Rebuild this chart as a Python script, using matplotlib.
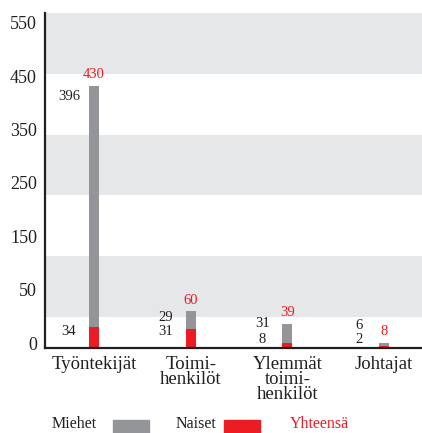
import matplotlib
matplotlib.use("Agg")
import matplotlib.pyplot as plt
from matplotlib.patches import Rectangle

# ---- data ----
categories = ["Työntekijät", "Toimi-\nhenkilöt", "Ylemmät\ntoimi-\nhenkilöt", "Johtajat"]
miehet = [396, 29, 31, 6]
naiset = [34, 31, 8, 2]
yhteensa = [430, 60, 39, 8]
ytick_labels = ["0", "50", "150", "250", "350", "450", "550"]
legend_labels = ["Miehet", "Naiset", "Yhteensä"]

# label placement (annotation layout, value units)
miehet_label_y = [412, 49, 39, 36]
naiset_label_y = [27, 27, 14, 13]
ytick_pos = [7.7 + 87.6 * i for i in range(7)]

GREY = "#939598"
RED = "#ED1C24"
BAND = "#E6E7E8"
TXT = "#231F20"
FONT = "Liberation Serif"

plt.rcParams["font.family"] = [FONT, "DejaVu Serif"]

fig = plt.figure(figsize=(4.22, 4.33), dpi=100)
ax = fig.add_axes([45.3 / 422, 85.3 / 433, 1 - 45.3 / 422, 335 / 433])

for lo, hi in [(50, 150), (250, 350), (450, 550)]:
    ax.axhspan(lo, hi, color=BAND, lw=0, zorder=0)

x = list(range(len(categories)))
w = 0.103
ax.bar(x, naiset, width=w, color=RED, zorder=2)
ax.bar(x, miehet, width=w, bottom=naiset, color=GREY, zorder=2)

for i in x:
    ax.text(i - 0.26, miehet_label_y[i], str(miehet[i]), ha="center", va="center",
            fontsize=10.5, color=TXT)
    ax.text(i - 0.26, naiset_label_y[i], str(naiset[i]), ha="center", va="center",
            fontsize=10.5, color=TXT)
    ax.annotate(str(yhteensa[i]), (i, yhteensa[i]), xytext=(0, 8),
                textcoords="offset points", ha="center", va="center",
                fontsize=10.5, color=RED)

ax.set_xlim(-0.504, 3.393)
ax.set_ylim(0, 550)
ax.set_yticks(ytick_pos)
ax.set_yticklabels(ytick_labels, fontsize=13, color=TXT)
ax.set_xticks(x)
ax.set_xticklabels(categories, fontsize=13.5, color=TXT, linespacing=0.85, va="top")
ax.tick_params(axis="both", length=0)
ax.tick_params(axis="y", pad=6)
ax.tick_params(axis="x", pad=6)

for s in ["top", "right"]:
    ax.spines[s].set_visible(False)
for s in ["left", "bottom"]:
    ax.spines[s].set_color(TXT)
    ax.spines[s].set_linewidth(1.6)
    ax.spines[s].set_zorder(3)

# legend
H = 433.0
W = 422.0
fig.text(52 / W, (H - 428) / H, legend_labels[0], fontsize=11.5, color=TXT, va="baseline")
fig.patches.append(Rectangle((113 / W, 0), 36 / W, 13 / H, transform=fig.transFigure,
                             color=GREY, figure=fig))
fig.text(176 / W, (H - 428) / H, legend_labels[1], fontsize=11.5, color=TXT, va="baseline")
fig.patches.append(Rectangle((224 / W, 0), 36 / W, 13 / H, transform=fig.transFigure,
                             color=RED, figure=fig))
fig.text(290 / W, (H - 428) / H, legend_labels[2], fontsize=11.5, color=RED, va="baseline")

fig.savefig("out.png", dpi=100)
